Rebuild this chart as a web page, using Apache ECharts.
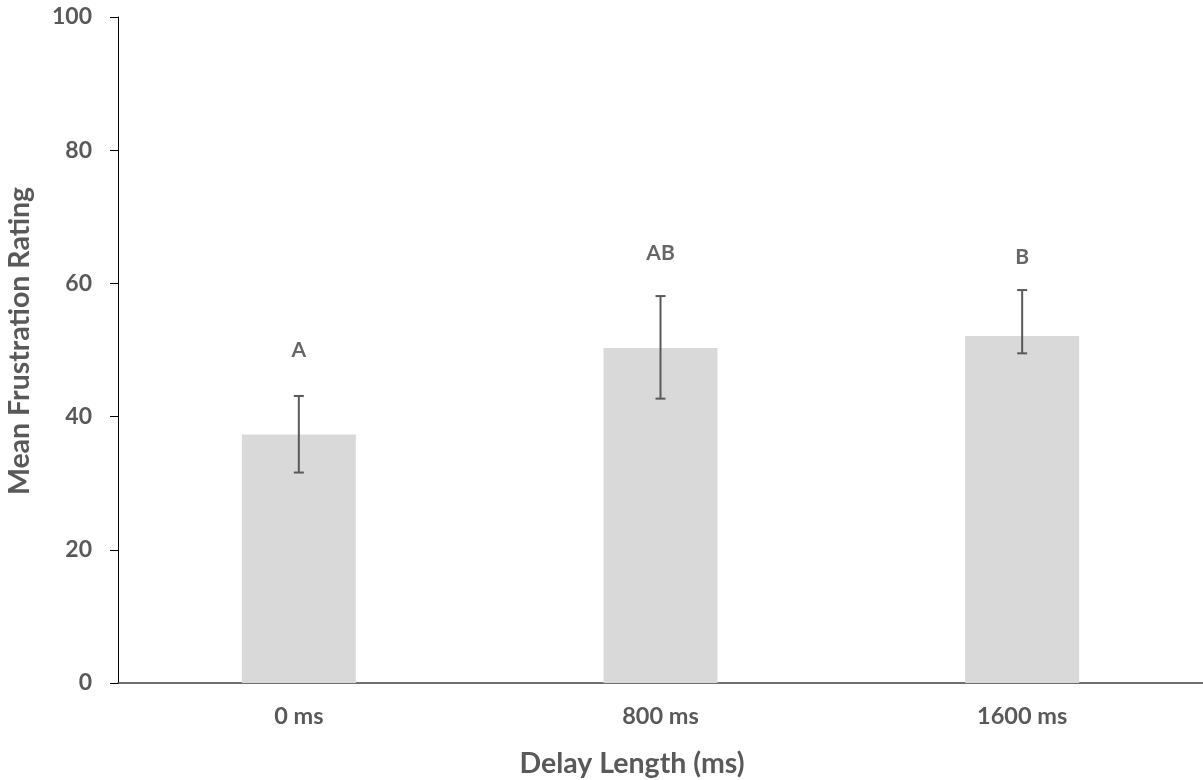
<!DOCTYPE html>
<html>
<head>
<meta charset="utf-8">
<script src="https://cdn.jsdelivr.net/npm/echarts@6/dist/echarts.min.js"></script>
<style>
html,body{margin:0;padding:0;background:#fff;}
#chart{width:1203px;height:780px;}
</style>
</head>
<body>
<div id="chart"></div>
<script>
const categories = ['0 ms', '800 ms', '1600 ms'];
const meanValues = [37.3, 50.3, 52.1];
const errorHigh = [43.1, 58.1, 59.0];
const errorLow = [31.6, 42.7, 49.5];
const sigLetters = ['A', 'AB', 'B'];
const letterValues = [49.9, 64.6, 64.0];
const yTicks = [0, 20, 40, 60, 80, 100];
const xTitle = 'Delay Length (ms)';
const yTitle = 'Mean Frustration Rating';

const chart = echarts.init(document.getElementById('chart'), null, {renderer: 'canvas'});
const fontFam = 'Lato, "Open Sans", sans-serif';

chart.setOption({
  animation: false,
  grid: {left: 118, right: 0, top: 17, bottom: 97},
  graphic: [
    {
      type: 'text',
      x: 632, y: 764,
      style: {
        text: xTitle, align: 'center', verticalAlign: 'middle',
        fill: '#595959', font: 'bold 28.5px ' + fontFam
      }
    },
    {
      type: 'text',
      x: 20, y: 341, rotation: Math.PI / 2,
      style: {
        text: yTitle, align: 'center', verticalAlign: 'middle',
        fill: '#595959', font: 'bold 28.5px ' + fontFam
      }
    }
  ],
  xAxis: {
    type: 'category',
    data: categories,
    axisLine: {lineStyle: {color: '#404040', width: 1.5}},
    axisTick: {show: false},
    axisLabel: {color: '#595959', fontFamily: fontFam, fontWeight: 'bold', fontSize: 23.5, margin: 21}
  },
  yAxis: {
    type: 'value',
    min: yTicks[0],
    max: yTicks[yTicks.length - 1],
    interval: yTicks[1] - yTicks[0],
    splitLine: {show: false},
    axisLine: {show: true, lineStyle: {color: '#000', width: 1}},
    axisTick: {show: true, length: 8, lineStyle: {color: '#000'}},
    axisLabel: {color: '#595959', fontFamily: fontFam, fontWeight: 'bold', fontSize: 23, margin: 26}
  },
  series: [
    {
      type: 'bar',
      data: meanValues,
      barWidth: 114,
      itemStyle: {color: '#d9d9d9'},
      z: 1
    },
    {
      type: 'custom',
      data: categories.map((c, i) => [i, errorLow[i], errorHigh[i]]),
      renderItem: function (params, api) {
        const lo = api.coord([api.value(0), api.value(1)]);
        const hi = api.coord([api.value(0), api.value(2)]);
        const hw = 5;
        const style = {stroke: '#595959', lineWidth: 2};
        return {
          type: 'group',
          children: [
            {type: 'line', shape: {x1: hi[0], y1: hi[1], x2: lo[0], y2: lo[1]}, style: style},
            {type: 'line', shape: {x1: hi[0] - hw, y1: hi[1], x2: hi[0] + hw, y2: hi[1]}, style: style},
            {type: 'line', shape: {x1: lo[0] - hw, y1: lo[1], x2: lo[0] + hw, y2: lo[1]}, style: style}
          ]
        };
      },
      z: 3
    },
    {
      type: 'scatter',
      data: letterValues.map((v, i) => [i, v]),
      symbolSize: 0,
      label: {
        show: true,
        position: 'inside',
        formatter: p => sigLetters[p.dataIndex],
        color: '#404040',
        fontFamily: fontFam,
        fontWeight: 'bold',
        fontSize: 21
      },
      z: 4
    }
  ]
});
</script>
</body>
</html>
